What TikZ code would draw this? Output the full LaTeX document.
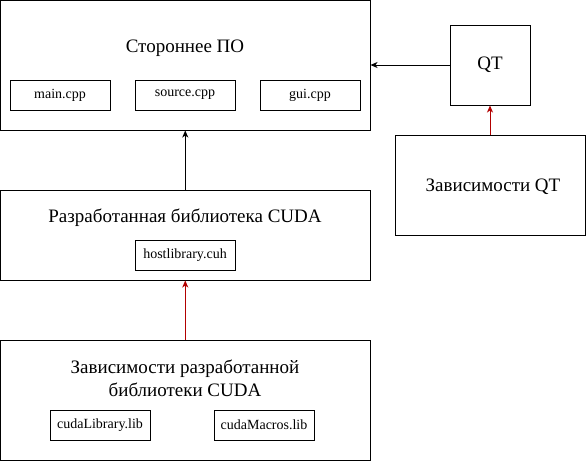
\documentclass[tikz,border=0pt]{standalone}
\usepackage{fontspec}
\setmainfont{Liberation Serif}
\usetikzlibrary{arrows.meta}
\definecolor{darkred}{RGB}{178,0,0}
\begin{document}
\begin{tikzpicture}[x=1pt,y=-1pt,
  box/.style={draw=black,line width=1pt,inner sep=0pt,minimum width=#1},
  big/.style={font=\fontsize{19}{22}\selectfont},
  small/.style={font=\fontsize{14}{16}\selectfont},
  conn/.style={line width=1pt,-{Stealth[length=7pt,width=6pt,inset=2pt]}},
  redconn/.style={conn,draw=darkred,-{Stealth[length=7pt,width=6pt,inset=2pt,darkred]}}]
\useasboundingbox (0,0) rectangle (586,461);
% Стороннее ПО
\node[box=369.5pt,minimum height=129.5pt] (soft) at (185.25,65.25) {};
\node[big] (softt) at (185,48) {Стороннее ПО};
\node[box=100pt,minimum height=30pt,small] (main) at (60,95) {main.cpp};
\node[box=100pt,minimum height=30pt,small] (src) at (185,95) {source.cpp};
\node[box=100pt,minimum height=30pt,small] (gui) at (310,95) {gui.cpp};
% CUDA lib
\node[box=369.5pt,minimum height=90pt] (lib) at (185.25,235) {};
\node[big] (libt) at (185,218) {Разработанная библиотека CUDA};
\node[box=100pt,minimum height=30pt,small] (host) at (185,255) {hostlibrary.cuh};
% deps
\node[box=369.5pt,minimum height=120pt] (deps) at (185.25,400) {};
\node[big,align=center] (depst) at (185,378) {Зависимости разработанной\\[1pt]библиотеки CUDA};
\node[box=100pt,minimum height=30pt,small] (cl) at (100,425) {cudaLibrary.lib};
\node[box=100pt,minimum height=30pt,small] (cm) at (264,425) {cudaMacros.lib};
% QT
\node[box=80pt,minimum height=80pt,big] (qt) at (490,65) {QT};
\node[box=190pt,minimum height=100pt] (qtd) at (490,185) {};
\node[big] (qtdt) at (493,187) {Зависимости QT};
% connectors
\draw[conn] (lib.north) -- (soft.south);
\draw[redconn] (deps.north) -- (lib.south);
\draw[conn] (qt.west) -- (qt.west -| soft.east);
\draw[redconn] (qtd.north) -- (qt.south);
\end{tikzpicture}
\end{document}
